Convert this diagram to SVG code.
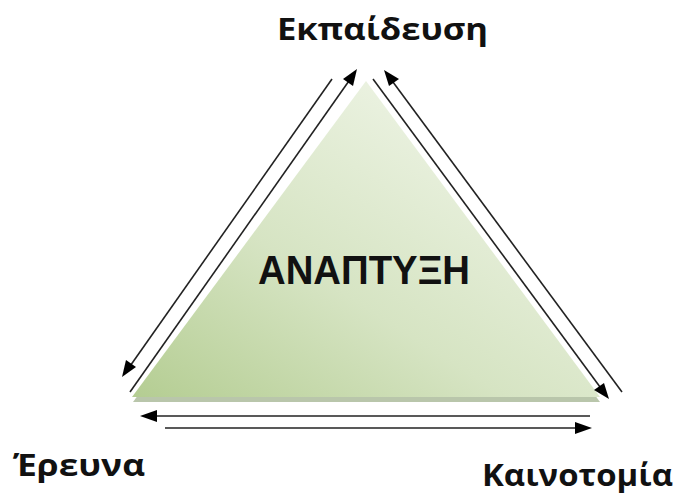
<svg xmlns="http://www.w3.org/2000/svg" width="681" height="494" viewBox="0 0 681 494">
<defs>
<linearGradient id="g" x1="0" y1="1" x2="0.75" y2="0.2">
<stop offset="0" stop-color="#b4cd92"/>
<stop offset="0.5" stop-color="#d6e4c3"/>
<stop offset="1" stop-color="#ebf2e1"/>
</linearGradient>
<style>
.ln{stroke:#222;stroke-width:1.6;fill:none}
.lbl{font-family:"Open Sans","Liberation Sans",sans-serif;font-weight:bold;font-size:31px;fill:#111}
</style>
</defs>
<rect width="681" height="494" fill="#fff"/>
<g id="triangle">
<polygon points="366,86 133,402 600,402" fill="#a8b896" opacity="0.8"/>
<polygon points="366,81 132,397 600,397" fill="url(#g)"/>
<text x="364" y="284" font-family="'Liberation Sans',Arial,sans-serif" font-weight="bold" font-size="40" fill="#111" text-anchor="middle" textLength="212" lengthAdjust="spacingAndGlyphs">ΑΝΑΠΤΥΞΗ</text>
</g>
<g id="connectors">
<line class="ln" x1="332" y1="79" x2="128" y2="369"/>
<path d="M122,377 l4,-17 l10,7 z" fill="#000"/>
<line class="ln" x1="130" y1="392" x2="351" y2="78"/>
<path d="M357,69 l-4,17 l-10,-7 z" fill="#000"/>
<line class="ln" x1="373" y1="79" x2="603" y2="391"/>
<path d="M609,399 l-15,-9 l10,-7 z" fill="#000"/>
<line class="ln" x1="622" y1="392" x2="390" y2="78"/>
<path d="M384,70 l15,9 l-10,7 z" fill="#000"/>
<line class="ln" x1="150" y1="416" x2="590" y2="416"/>
<path d="M140,416 l17,-6 l0,12 z" fill="#000"/>
<line class="ln" x1="165" y1="428" x2="582" y2="428"/>
<path d="M592,428 l-17,-6 l0,12 z" fill="#000"/>
</g>
<g id="education"><text class="lbl" x="277" y="40" textLength="211" lengthAdjust="spacingAndGlyphs">Εκπαίδευση</text></g>
<g id="research"><text class="lbl" x="13" y="476" textLength="132" lengthAdjust="spacingAndGlyphs">Έρευνα</text></g>
<g id="innovation"><text class="lbl" x="482" y="486" textLength="191" lengthAdjust="spacingAndGlyphs">Καινοτομία</text></g>
</svg>
